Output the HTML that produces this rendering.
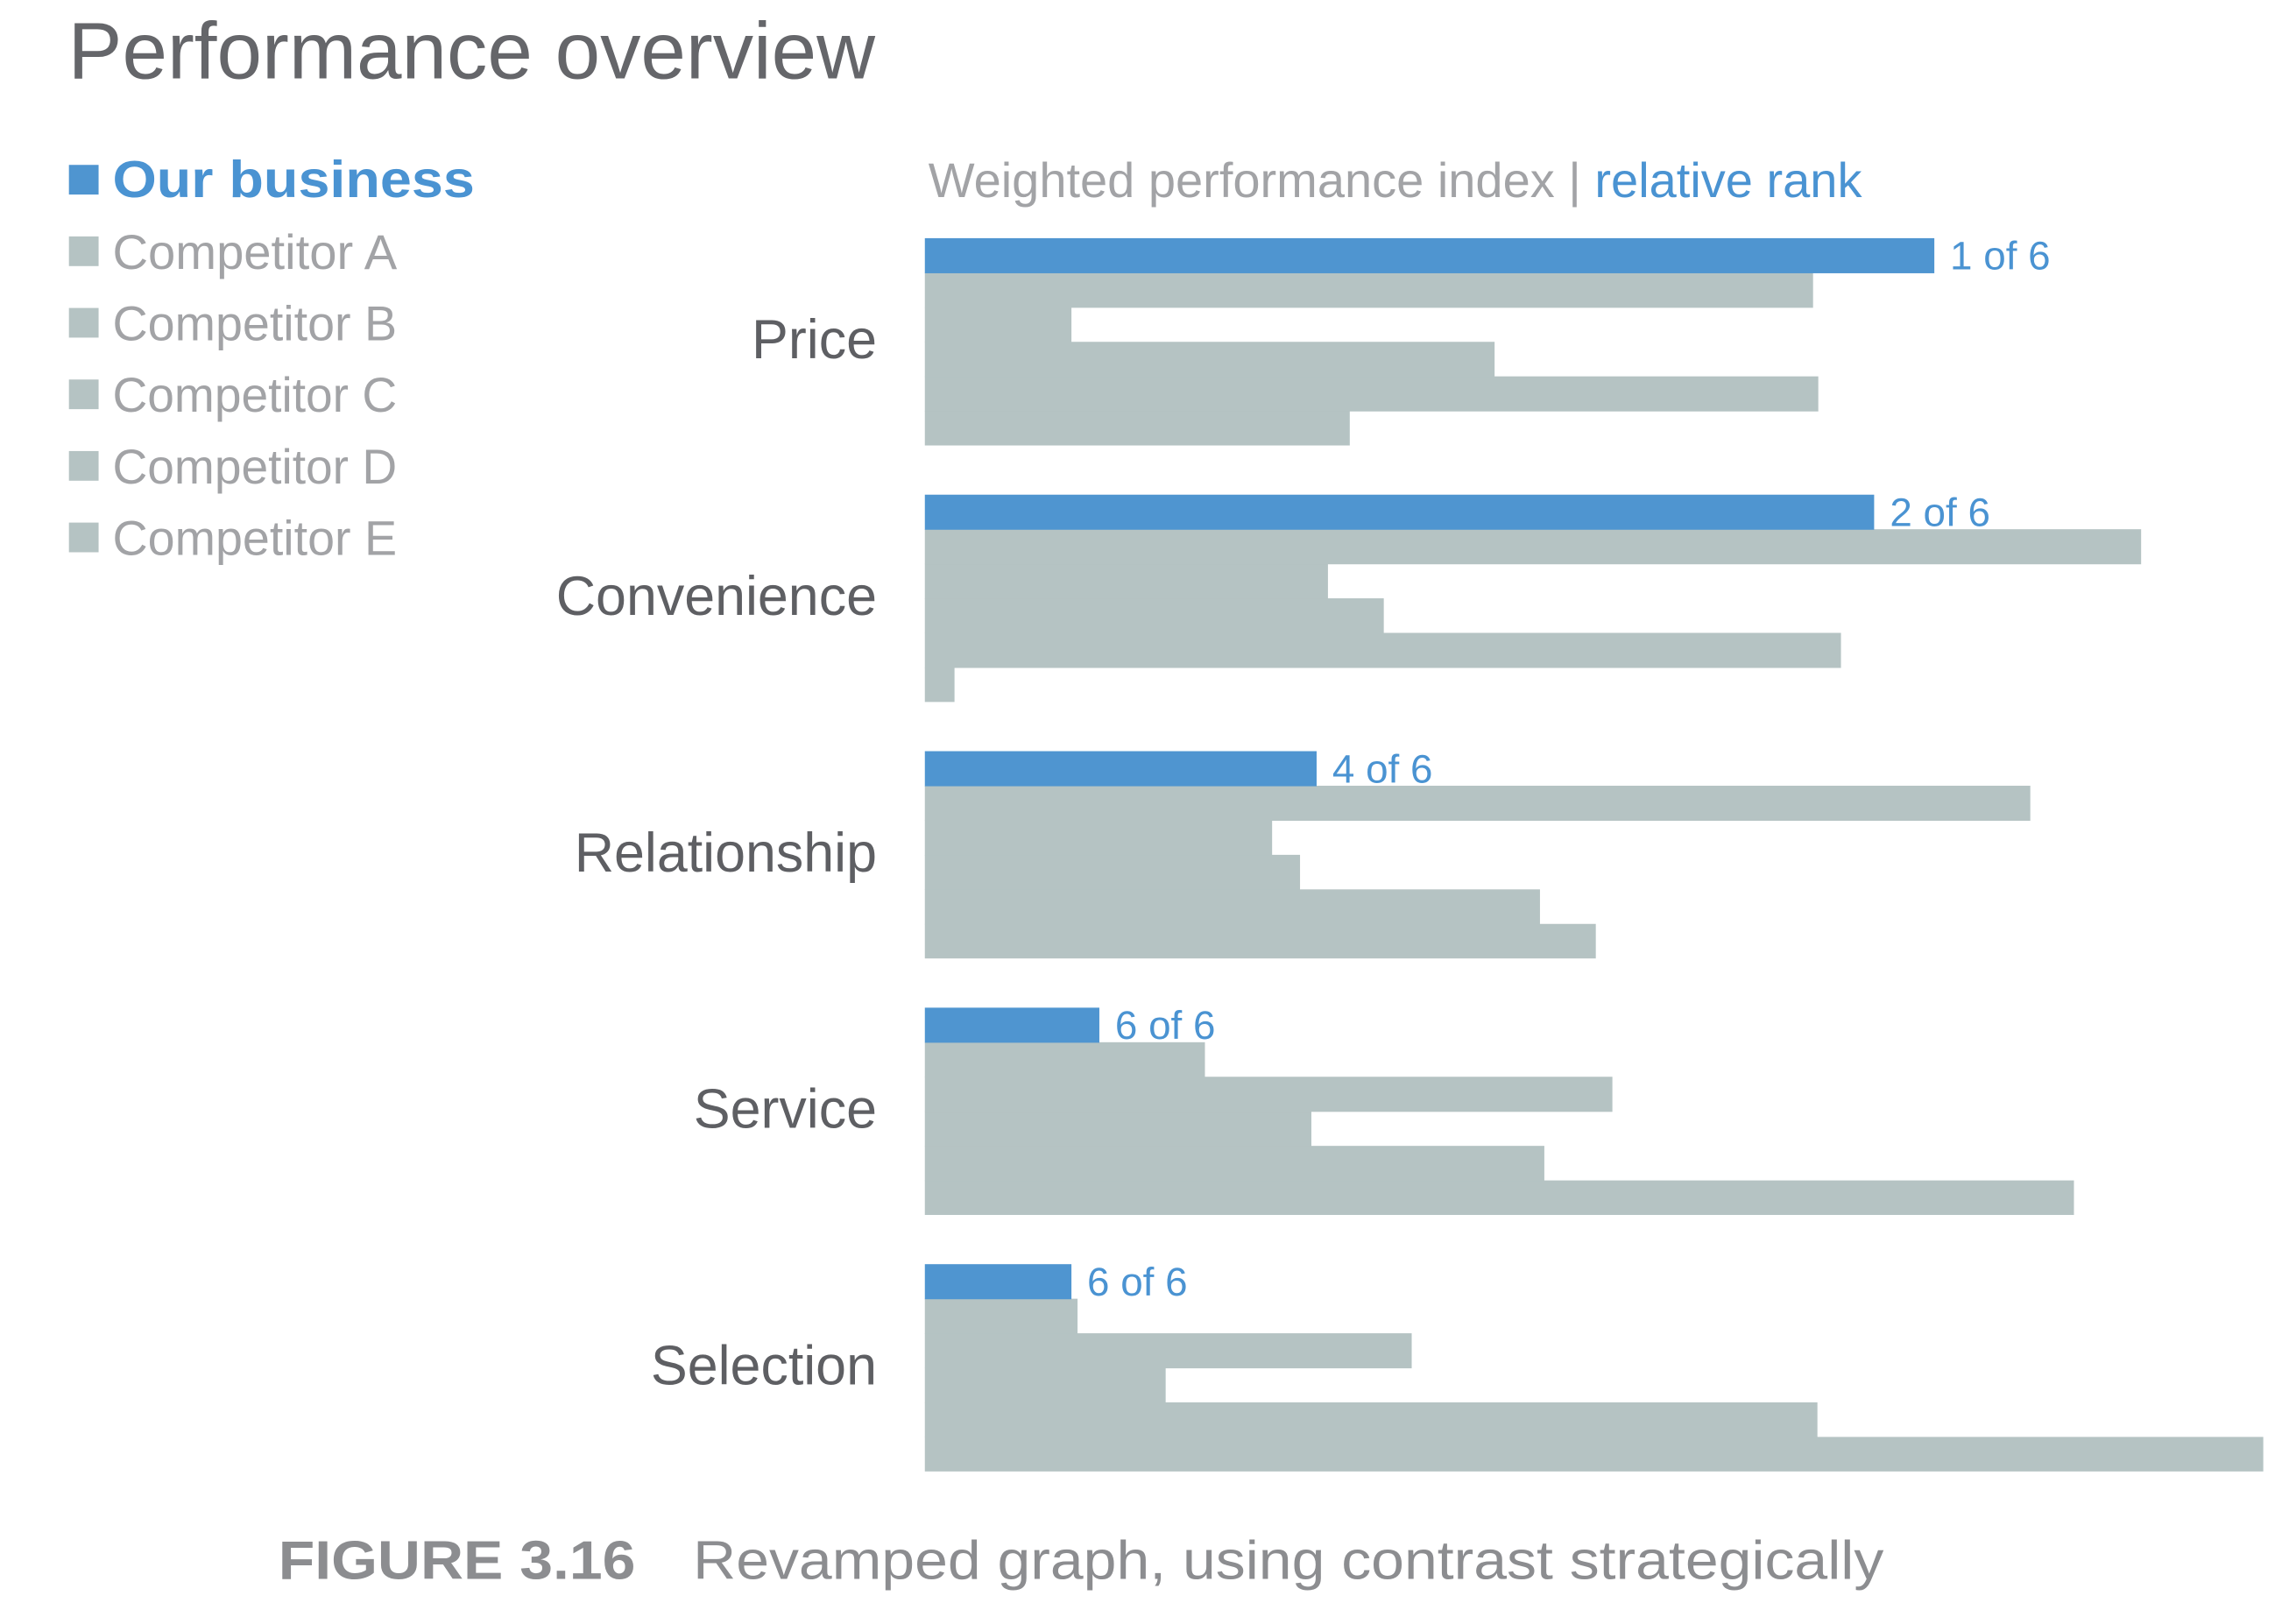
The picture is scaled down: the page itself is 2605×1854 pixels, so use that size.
<!DOCTYPE html>
<html><head><meta charset="utf-8"><style>
html,body{margin:0;padding:0;background:#fff;}
svg{display:block;font-family:"Liberation Sans",sans-serif;}
</style></head><body>
<svg width="2605" height="1854" viewBox="0 0 2605 1854">
<g id="chart" transform="scale(0.996)">
<text x="78" y="90" font-size="92" fill="#65666a" textLength="925" lengthAdjust="spacingAndGlyphs">Performance overview</text>
<g>
<rect x="79" y="189" width="34" height="34" fill="#4f95d0"/>
<text x="129" y="226" font-size="60" font-weight="bold" fill="#4a93d2" textLength="415" lengthAdjust="spacingAndGlyphs">Our business</text>
</g>
<text x="1064" y="226" font-size="56" fill="#a2a3a6" textLength="1070" lengthAdjust="spacingAndGlyphs">Weighted performance index | <tspan fill="#4a93d2">relative rank</tspan></text>
<g id="bars"></g>
<text x="319" y="1810" font-size="62" fill="#8c8d90" textLength="1840" lengthAdjust="spacingAndGlyphs"><tspan font-weight="bold">FIGURE 3.16</tspan><tspan dx="60">Revamped graph, using contrast strategically</tspan></text>
</g>
</svg>
<script>
const categories = ["Price","Convenience","Relationship","Service","Selection"];
const series = ["Our business","Competitor A","Competitor B","Competitor C","Competitor D","Competitor E"];
const ourValues = [1157,1088,449,200,168];
const compA = [1018,1394,1267,321,175];
const compB = [168,462,398,788,558];
const compC = [653,526,430,443,276];
const compD = [1024,1050,705,710,1023];
const compE = [487,34,769,1317,1534];
const rankLabels = ["1 of 6","2 of 6","4 of 6","6 of 6","6 of 6"];

const NS = "http://www.w3.org/2000/svg";
const X0 = 1060, Y0 = 273, GROUP = 294.0, BAR = 39.6;
function xScale(v){ return X0 + v; }
function yScale(ci, si){ return Y0 + ci*GROUP + si*BAR; }
const allSeries = [ourValues, compA, compB, compC, compD, compE];
const svg = document.getElementById('chart');
const g = document.getElementById('bars');

for (let s = 1; s < series.length; s++) {
  const y = 189 + s*82;
  const r = document.createElementNS(NS,'rect');
  r.setAttribute('x',79); r.setAttribute('y',y); r.setAttribute('width',34); r.setAttribute('height',34);
  r.setAttribute('fill','#b5c3c3');
  
  
  svg.appendChild(r);
  const t = document.createElementNS(NS,'text');
  t.setAttribute('x',129); t.setAttribute('y',y+37); t.setAttribute('font-size',56);
  t.setAttribute('fill','#a2a3a6'); t.setAttribute('textLength',326); t.setAttribute('lengthAdjust','spacingAndGlyphs');
  t.textContent = series[s];
  
  
  svg.appendChild(t);
}

categories.forEach((c, ci) => {
  for (let s = 5; s >= 0; s--) {
    const v = allSeries[s][ci];
    const r = document.createElementNS(NS,'rect');
    r.setAttribute('x', X0);
    r.setAttribute('y', yScale(ci, s));
    r.setAttribute('width', xScale(v) - X0);
    r.setAttribute('height', BAR + (s < 5 ? 0.6 : 0));
    r.setAttribute('fill', s === 0 ? '#4f95d0' : '#b5c3c3');
    
    
    g.appendChild(r);
  }
  const lab = document.createElementNS(NS,'text');
  lab.setAttribute('x', 1005);
  lab.setAttribute('y', yScale(ci, 3) + 19);
  lab.setAttribute('text-anchor','end');
  lab.setAttribute('font-size', 63);
  lab.setAttribute('fill', '#5e5f63');
  lab.textContent = c;
  
  
  g.appendChild(lab);
  const rk = document.createElementNS(NS,'text');
  rk.setAttribute('x', xScale(ourValues[ci]) + 18);
  rk.setAttribute('y', yScale(ci, 0) + 36);
  rk.setAttribute('font-size', 46);
  rk.setAttribute('fill', '#4a93d2');
  rk.textContent = rankLabels[ci];
  
  
  g.appendChild(rk);
});
</script>
</body></html>
